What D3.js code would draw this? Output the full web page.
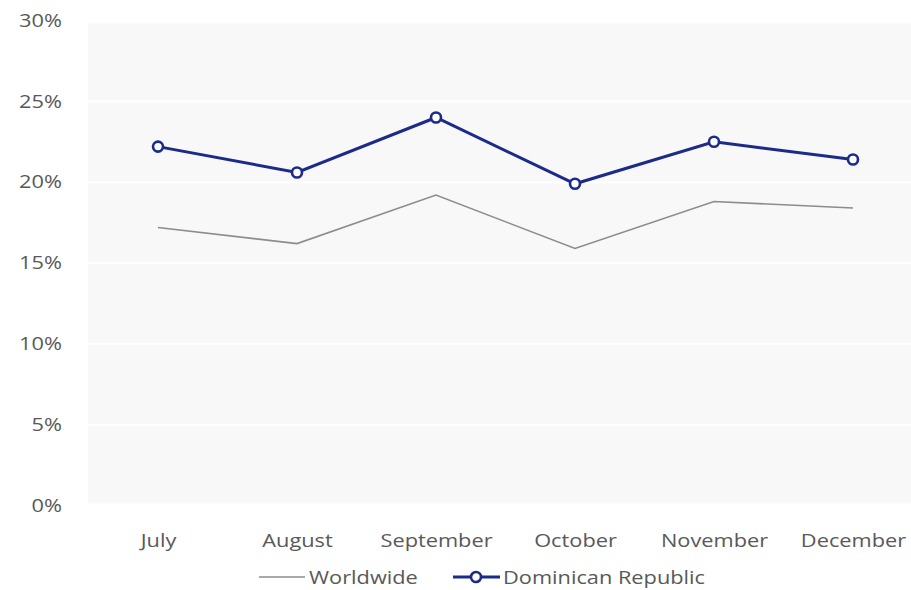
<!DOCTYPE html>
<html><head><meta charset="utf-8">
<script src="https://cdn.jsdelivr.net/npm/d3@7/dist/d3.min.js"></script>
<style>body{margin:0;background:#fff;}svg{display:block;font-family:"Open Sans","Noto Sans",sans-serif;}</style>
</head><body>
<svg id="c" width="911" height="590"></svg>
<script>
const months = ["July","August","September","October","November","December"];
const worldwide = [17.2, 16.2, 19.2, 15.9, 18.8, 18.4];
const dominican = [22.2, 20.6, 24.0, 19.9, 22.5, 21.4];
const yTicks = [0,5,10,15,20,25,30];
const seriesNames = ["Worldwide","Dominican Republic"];

const FS = 18, SX = 1.21, TXT = "#595959";
const svg = d3.select("#c");
const x = d3.scalePoint().domain(months).range([158, 853]);
const y = d3.scaleLinear().domain([0,30]).range([505.5, 20.5]);

// plot background
svg.append("rect").attr("x", 88).attr("y", y(30)+3).attr("width", 911-88).attr("height", y(0)-y(30)-5).attr("fill","#f8f8f8");

// gridlines
svg.append("g").selectAll("line").data(yTicks.filter(d=>d>0&&d<30)).join("line")
  .attr("x1",88).attr("x2",911).attr("y1",d=>y(d)).attr("y2",d=>y(d))
  .attr("stroke","#ffffff").attr("stroke-width",2);

// y axis
const yAxis = d3.axisLeft(y).tickValues(yTicks).tickFormat(d=>d+"%").tickSize(0).tickPadding(0);
const gy = svg.append("g").attr("transform","translate(62,0)").call(yAxis);
gy.select(".domain").remove();
gy.selectAll("text").attr("font-size",FS).attr("fill",TXT).attr("font-family","'Open Sans','Noto Sans',sans-serif")
  .attr("transform",`scale(${SX},1)`);

// x axis
const xAxis = d3.axisBottom(x).tickSize(0).tickPadding(0);
const gx = svg.append("g").attr("transform","translate(0,534)").call(xAxis);
gx.select(".domain").remove();
gx.selectAll("text").attr("font-size",FS).attr("fill",TXT).attr("font-family","'Open Sans','Noto Sans',sans-serif")
  .attr("transform",`scale(${SX},1)`);

const line = d3.line().x((d,i)=>x(months[i])).y(d=>y(d));

svg.append("path").datum(worldwide).attr("d",line).attr("fill","none").attr("stroke","#8c8c8c").attr("stroke-width",1.6);
svg.append("path").datum(dominican).attr("d",line).attr("fill","none").attr("stroke","#1c2a8a").attr("stroke-width",3);
svg.append("g").selectAll("circle").data(dominican).join("circle")
  .attr("cx",(d,i)=>x(months[i])).attr("cy",d=>y(d)).attr("r",5)
  .attr("fill","#fff").attr("stroke","#1c2a8a").attr("stroke-width",2.6);

// legend
const lg = svg.append("g").attr("transform","translate(0,577)");
lg.append("line").attr("x1",259).attr("x2",305).attr("y1",0).attr("y2",0).attr("stroke","#8c8c8c").attr("stroke-width",1.6);
lg.append("g").attr("transform","translate(309,0)").append("text").attr("y",6.5).attr("font-size",FS).attr("fill",TXT)
  .attr("transform",`scale(${SX},1)`).text(seriesNames[0]);
lg.append("line").attr("x1",453).attr("x2",500).attr("y1",0).attr("y2",0).attr("stroke","#1c2a8a").attr("stroke-width",3);
lg.append("circle").attr("cx",476).attr("cy",0).attr("r",5).attr("fill","#fff").attr("stroke","#1c2a8a").attr("stroke-width",2.6);
lg.append("g").attr("transform","translate(503,0)").append("text").attr("y",6.5).attr("font-size",FS).attr("fill",TXT)
  .attr("transform",`scale(${SX},1)`).text(seriesNames[1]);
</script>
</body></html>
